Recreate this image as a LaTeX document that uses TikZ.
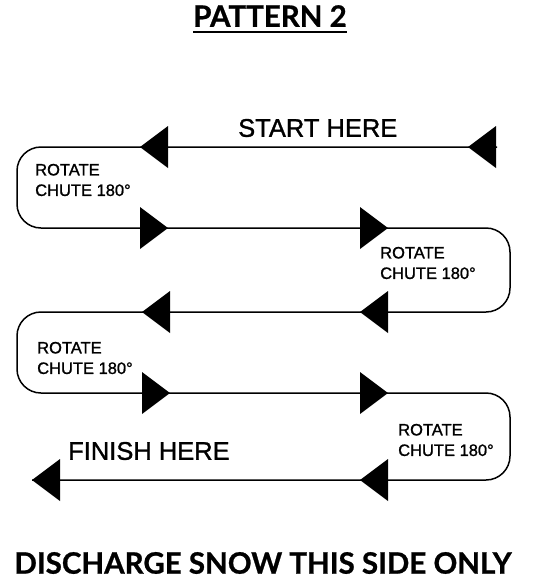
\documentclass[tikz,border=0pt]{standalone}
\usepackage{fontspec}
\setmainfont{Liberation Sans}
\newfontfamily\labelfont{Liberation Sans}[FakeBold=1.2]
\newfontfamily\headfont{Lato}[BoldFeatures={FakeBold=0.8}]
\usetikzlibrary{calc}

\begin{document}
\begin{tikzpicture}[x=1pt, y=-1pt]
    % Define colors
    \definecolor{lineColour}{HTML}{000000}

    % Define styles
    \tikzset{
        label/.style={anchor=west, inner sep=0pt, font=\labelfont\fontsize{25.5}{28}\selectfont},
        rotlabel/.style={anchor=west, inner sep=0pt, align=left, font=\labelfont\fontsize{16.5}{20.5}\selectfont},
        head/.style={inner sep=0pt, font=\headfont\bfseries\fontsize{29.5}{32}\selectfont}
    }

    % Define path shape
    \def\leftX{17}
    \def\rightX{510}
    \def\tipW{28}
    \def\tipH{21}

    % Fix the page size
    \useasboundingbox (0,0) rectangle (535,579);

    % Title
    \node[head] (title) at (270,16) {PATTERN 2};
    \draw[line width=2.2pt] ($(title.south west)+(0,5)$) -- ($(title.south east)+(0,5)$);

    % Row ends
    \coordinate (start) at (497,147);
    \coordinate (finish) at (32,480);

    % Draw the snake path
    \draw[lineColour, line width=1.5pt, rounded corners=24pt]
        (start) -- (\leftX,147) -- (\leftX,228) -- (\rightX,228) -- (\rightX,312)
        -- (\leftX,312) -- (\leftX,393) -- (\rightX,393) -- (\rightX,480) -- (finish);

    % Left-pointing tips: x, y
    \foreach \x/\y in {140/147, 468/147, 142/312, 360/312, 32/480, 360/480}
        \fill[lineColour] (\x,\y) -- ++(\tipW,-\tipH) -- ++(0,2*\tipH) -- cycle;
    % Right-pointing tips: x, y
    \foreach \x/\y in {168/228, 388/228, 170/393, 388/393}
        \fill[lineColour] (\x,\y) -- ++(-\tipW,-\tipH) -- ++(0,2*\tipH) -- cycle;

    % Labels
    \node[label] (startlbl) at (238,128) {START HERE};
    \node[label] (finishlbl) at (68,451) {FINISH HERE};
    \node[rotlabel] (rot1) at (35,180) {ROTATE\\CHUTE 180°};
    \node[rotlabel] (rot2) at (380,263) {ROTATE\\CHUTE 180°};
    \node[rotlabel] (rot3) at (37,358) {ROTATE\\CHUTE 180°};
    \node[rotlabel] (rot4) at (398,440) {ROTATE\\CHUTE 180°};

    % Bottom note
    \node[head] (note) at (263,563) {DISCHARGE SNOW THIS SIDE ONLY};
\end{tikzpicture}
\end{document}
